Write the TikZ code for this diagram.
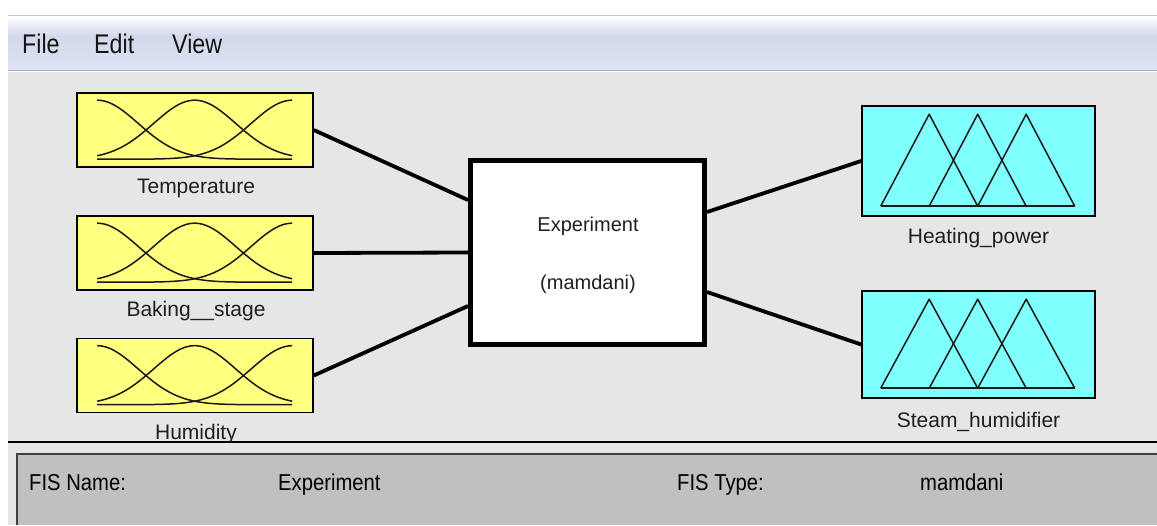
\documentclass[tikz,border=0pt]{standalone}
\usepackage{fontspec}
\setmainfont{Liberation Sans}
\newfontfamily\menufont[FakeStretch=0.86]{Liberation Sans}
\newfontfamily\panelfont[FakeStretch=0.88]{Liberation Sans}
\definecolor{inyellow}{HTML}{FFFF80}
\definecolor{outcyan}{HTML}{80FFFF}
\definecolor{bgray}{HTML}{E6E6E6}
\definecolor{pgray}{HTML}{C0C0C0}
\definecolor{menua}{HTML}{D3D9EC}
\definecolor{menub}{HTML}{DDE3F2}
\newcommand\gaussmf[1]{%
  \begin{scope}[shift={(#1.north west)}]
    \foreach \c in {21,118.5,216}{
      \draw[mf] plot[domain=21:216,samples=80,smooth]
        (\x,{67-59*exp(-0.5*((\x-\c)/41)*((\x-\c)/41))});
    }
  \end{scope}}
\newcommand\trimf[2]{%
  \begin{scope}[shift={(#1.north west)}]
    \draw[mf] (19.5,{#2-9}) -- (213.5,{#2-9});
    \draw[mf] (19.5,{#2-9}) -- (68,9) -- (116.5,{#2-9});
    \draw[mf] (68,{#2-9}) -- (116.5,9) -- (165,{#2-9});
    \draw[mf] (116.5,{#2-9}) -- (165,9) -- (213.5,{#2-9});
  \end{scope}}
\begin{document}
\begin{tikzpicture}[x=1pt,y=-1pt,
  inbox/.style={draw=black, line width=1.6pt, fill=inyellow, minimum width=236pt, minimum height=74pt, inner sep=0pt},
  outbox/.style={draw=black, line width=1.6pt, fill=outcyan, minimum width=233pt, inner sep=0pt},
  sysbox/.style={draw=black, line width=5pt, fill=white, minimum width=234pt, minimum height=184pt, inner sep=0pt},
  mf/.style={draw=black!90, line width=1.5pt, line join=round},
  conn/.style={draw=black, line width=3.8pt},
  lbl/.style={font=\fontsize{21}{24}\selectfont, text=black!88, inner sep=0pt, anchor=base},
  menu/.style={font=\menufont\fontsize{27}{30}\selectfont, text=black!92, inner sep=0pt, anchor=base west},
  ptxt/.style={font=\panelfont\fontsize{23}{26}\selectfont, text=black, inner sep=0pt, anchor=base west}]
\useasboundingbox (0,0) rectangle (1157,525);
\fill[white] (0,0) rectangle (1157,525);
% menu bar
\shade[top color=white, bottom color=menua] (8,16) rectangle (1157,36);
\shade[top color=menua, bottom color=menub] (8,36) rectangle (1157,70);
\draw[black!22, line width=1.5pt] (8,15.5) -- (1157,15.5);
\draw[black!32, line width=1.5pt] (8,70.5) -- (1157,70.5);
\node[menu] (mfile) at (22,53) {File};
\node[menu] (medit) at (94,53) {Edit};
\node[menu] (mview) at (172,53) {View};
% main area
\fill[bgray] (8,71.5) rectangle (1157,525);
% input boxes
\node[inbox] (temp) at (195,130) {};
\node[inbox] (bake) at (195,253) {};
\node[inbox] (humi) at (195,375.5) {};
\gaussmf{temp}
\gaussmf{bake}
\gaussmf{humi}
\node[lbl] (ltemp) at (196,193) {Temperature};
\node[lbl] (lbake) at (196,316) {Baking\_\_stage};
\node[lbl] (lhumi) at (196,439) {Humidity};
% system box
\node[sysbox] (sys) at (587.5,252.5) {};
\node[lbl, font=\fontsize{20}{24}\selectfont] (sname) at (588,231) {Experiment};
\node[lbl, font=\fontsize{20}{24}\selectfont] (stype) at (588,289) {(mamdani)};
% output boxes
\node[outbox, minimum height=110pt] (heat) at (978.5,161) {};
\node[outbox, minimum height=107pt] (steam) at (978.5,344.5) {};
\trimf{heat}{110}
\trimf{steam}{107}
\node[lbl] (lheat) at (978.5,243) {Heating\_power};
\node[lbl] (lsteam) at (978.5,427) {Steam\_humidifier};
% connectors
\draw[conn] (temp.east) -- ([yshift=52.5pt]sys.west);
\draw[conn] (bake.east) -- (sys.west);
\draw[conn] (humi.east) -- ([yshift=-53.5pt]sys.west);
\draw[conn] ([yshift=40.5pt]sys.east) -- (heat.west);
\draw[conn] ([yshift=-39.5pt]sys.east) -- (steam.west);
% bottom panel
\fill[bgray] (8,443) rectangle (1157,525);
\draw[black, line width=1.5pt] (8,442) -- (1157,442);
\fill[pgray] (17,454) rectangle (1157,525);
\draw[black!75, line width=2pt] (17,525) -- (17,454) -- (1157,454);
\node[ptxt] (fisn) at (29,490) {FIS Name:};
\node[ptxt] (fisnv) at (278,490) {Experiment};
\node[ptxt] (fist) at (677,490) {FIS Type:};
\node[ptxt] (fistv) at (920,490) {mamdani};
\end{tikzpicture}
\end{document}
